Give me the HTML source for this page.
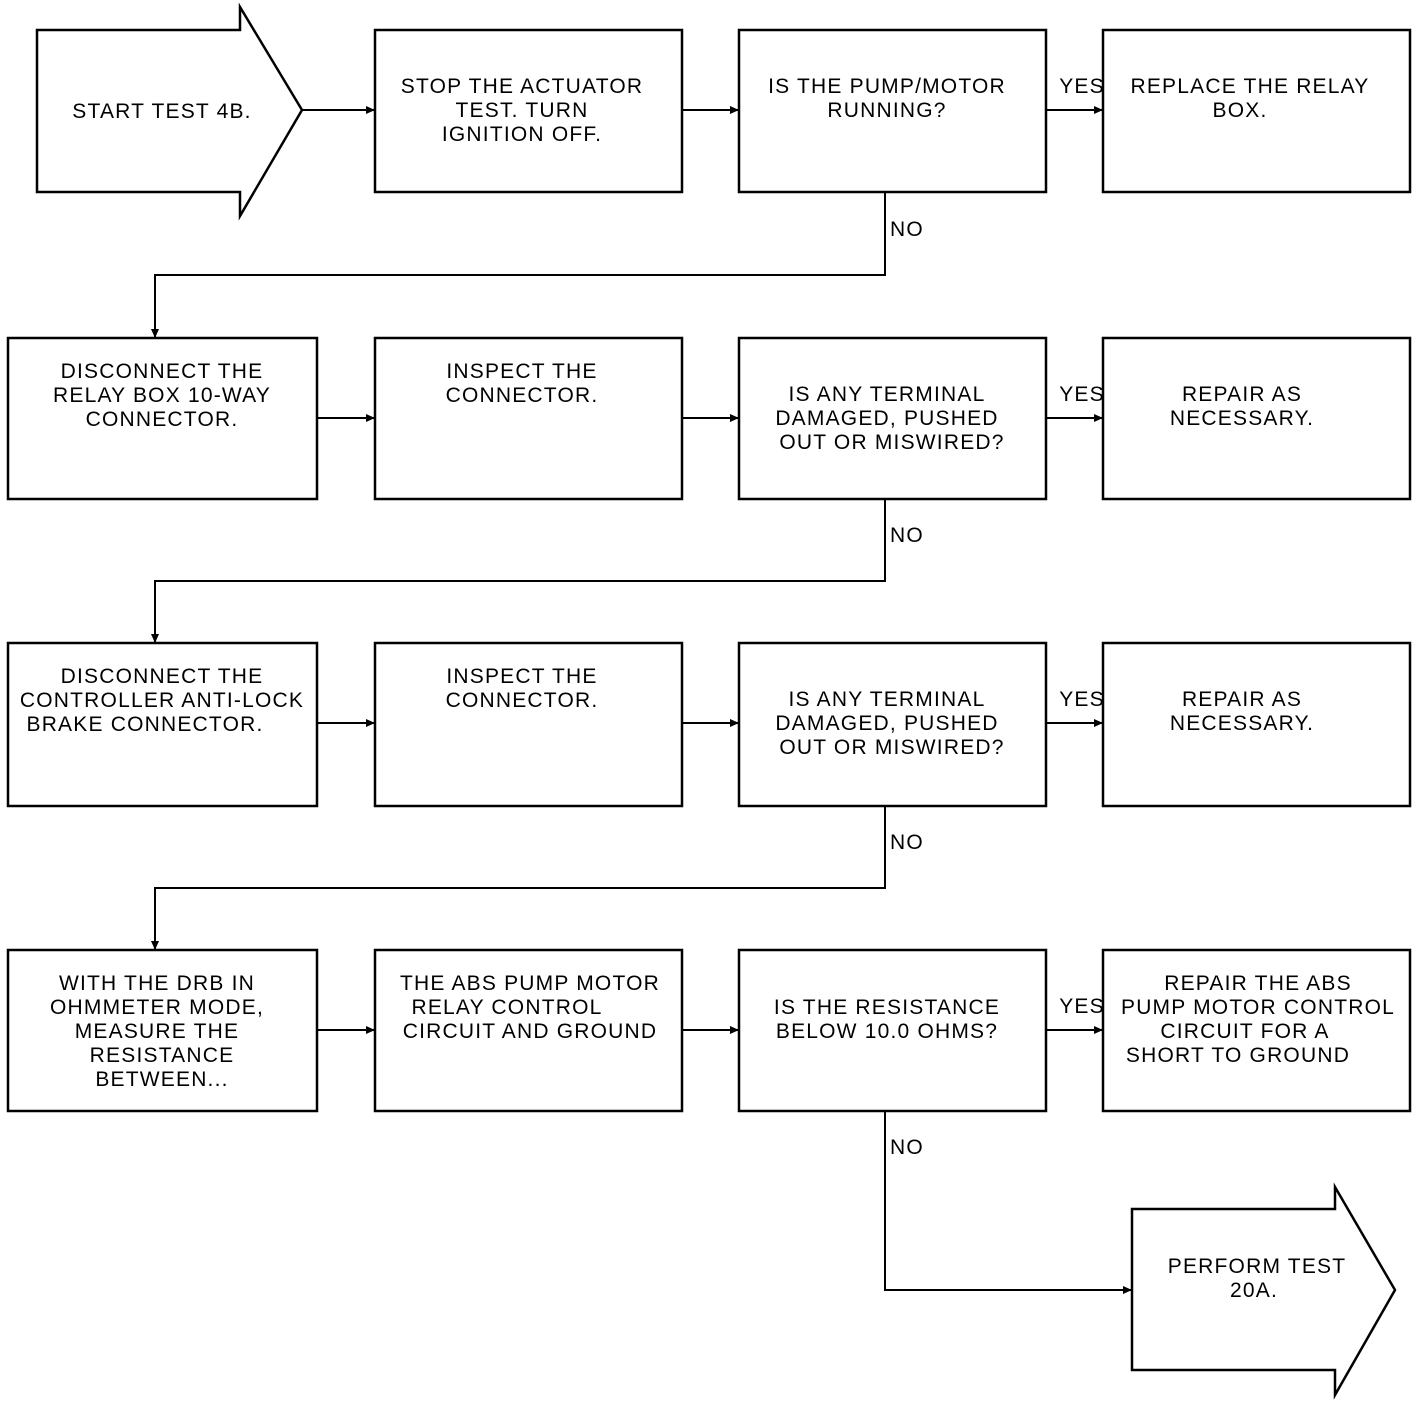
<!DOCTYPE html>
<html><head><meta charset="utf-8"><style>
html,body{margin:0;padding:0;background:#fff;}
svg{display:block;}
text{font-family:"Liberation Sans",sans-serif;font-size:21px;fill:#000;text-anchor:middle;letter-spacing:1.2px;}
</style></head><body>
<svg width="1424" height="1404" viewBox="0 0 1424 1404" xmlns="http://www.w3.org/2000/svg">
<defs><marker id="a" markerWidth="10" markerHeight="10" refX="9" refY="5" orient="auto" markerUnits="userSpaceOnUse"><path d="M0,1 L9,5 L0,9 z" fill="#000"/></marker></defs>
<g fill="none" stroke="#000" stroke-width="2.5">
<path d="M37,30 H240 V7 L302,110 L240,216 V192 H37 Z"/>
<rect x="375" y="30" width="307" height="162"/>
<rect x="739" y="30" width="307" height="162"/>
<rect x="1103" y="30" width="307" height="162"/>
<rect x="8" y="338" width="309" height="161"/>
<rect x="375" y="338" width="307" height="161"/>
<rect x="739" y="338" width="307" height="161"/>
<rect x="1103" y="338" width="307" height="161"/>
<rect x="8" y="643" width="309" height="163"/>
<rect x="375" y="643" width="307" height="163"/>
<rect x="739" y="643" width="307" height="163"/>
<rect x="1103" y="643" width="307" height="163"/>
<rect x="8" y="950" width="309" height="161"/>
<rect x="375" y="950" width="307" height="161"/>
<rect x="739" y="950" width="307" height="161"/>
<rect x="1103" y="950" width="307" height="161"/>
<path d="M1132,1209 H1335 V1187 L1395,1290 L1335,1395 V1370 H1132 Z"/>
</g>
<g fill="none" stroke="#000" stroke-width="2" marker-end="url(#a)">
<path d="M302,110 H375"/><path d="M682,110 H739"/><path d="M1046,110 H1103"/>
<path d="M885,192 V275 H155 V338"/>
<path d="M317,418 H375"/><path d="M682,418 H739"/><path d="M1046,418 H1103"/>
<path d="M885,499 V581 H155 V643"/>
<path d="M317,723 H375"/><path d="M682,723 H739"/><path d="M1046,723 H1103"/>
<path d="M885,806 V888 H155 V950"/>
<path d="M317,1030 H375"/><path d="M682,1030 H739"/><path d="M1046,1030 H1103"/>
<path d="M885,1111 V1290 H1132"/>
</g>
<g>
<text x="1082" y="93">YES</text><text x="1082" y="401">YES</text><text x="1082" y="706">YES</text><text x="1082" y="1013">YES</text>
<text x="907" y="236">NO</text><text x="907" y="542">NO</text><text x="907" y="849">NO</text><text x="907" y="1154">NO</text>

<text x="162" y="118">START TEST 4B.</text>
<text x="522" y="93">STOP THE ACTUATOR</text><text x="522" y="117">TEST. TURN</text><text x="522" y="141">IGNITION OFF.</text>
<text x="887" y="93">IS THE PUMP/MOTOR</text><text x="887" y="117">RUNNING?</text>
<text x="1250" y="93">REPLACE THE RELAY</text><text x="1240" y="117">BOX.</text>

<text x="162" y="378">DISCONNECT THE</text><text x="162" y="402">RELAY BOX 10-WAY</text><text x="162" y="426">CONNECTOR.</text>
<text x="522" y="378">INSPECT THE</text><text x="522" y="402">CONNECTOR.</text>
<text x="887" y="401">IS ANY TERMINAL</text><text x="887" y="425">DAMAGED, PUSHED</text><text x="892" y="449">OUT OR MISWIRED?</text>
<text x="1242" y="401">REPAIR AS</text><text x="1242" y="425">NECESSARY.</text>

<text x="162" y="683">DISCONNECT THE</text><text x="162" y="707">CONTROLLER ANTI-LOCK</text><text x="145" y="731">BRAKE CONNECTOR.</text>
<text x="522" y="683">INSPECT THE</text><text x="522" y="707">CONNECTOR.</text>
<text x="887" y="706">IS ANY TERMINAL</text><text x="887" y="730">DAMAGED, PUSHED</text><text x="892" y="754">OUT OR MISWIRED?</text>
<text x="1242" y="706">REPAIR AS</text><text x="1242" y="730">NECESSARY.</text>

<text x="157" y="990">WITH THE DRB IN</text><text x="157" y="1014">OHMMETER MODE,</text><text x="157" y="1038">MEASURE THE</text><text x="162" y="1062">RESISTANCE</text><text x="162" y="1086">BETWEEN...</text>
<text x="530" y="990">THE ABS PUMP MOTOR</text><text x="507" y="1014">RELAY CONTROL</text><text x="530" y="1038">CIRCUIT AND GROUND</text>
<text x="887" y="1014">IS THE RESISTANCE</text><text x="887" y="1038">BELOW 10.0 OHMS?</text>
<text x="1258" y="990">REPAIR THE ABS</text><text x="1258" y="1014">PUMP MOTOR CONTROL</text><text x="1245" y="1038">CIRCUIT FOR A</text><text x="1238" y="1062">SHORT TO GROUND</text>

<text x="1257" y="1273">PERFORM TEST</text><text x="1254" y="1297">20A.</text>
</g>
</svg>
</body></html>
